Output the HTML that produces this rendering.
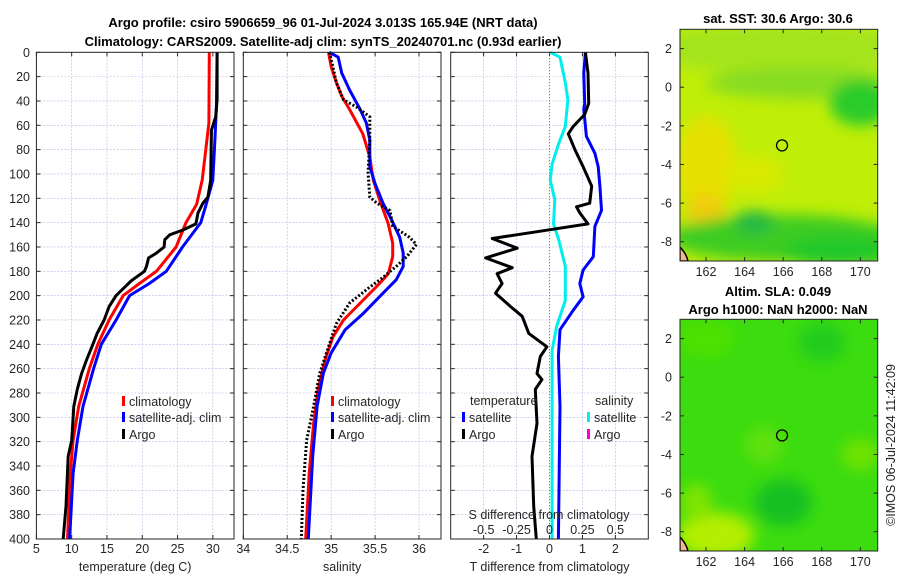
<!DOCTYPE html>
<html><head><meta charset="utf-8">
<style>
body{margin:0;background:#fff;}
svg{display:block;font-family:"Liberation Sans","DejaVu Sans",sans-serif;}
.t{font-size:12.5px;fill:#262626;}
.ti{font-size:13px;font-weight:bold;fill:#000;}
.grid{stroke:#b0b8e0;stroke-width:0.6;stroke-dasharray:2,1.5;}
</style></head>
<body>
<svg id="c" width="900" height="580">
<text class="ti" x="323" y="27" text-anchor="middle">Argo profile: csiro 5906659_96 01-Jul-2024 3.013S 165.94E (NRT data)</text>
<text class="ti" x="323" y="46" text-anchor="middle">Climatology: CARS2009. Satellite-adj clim: synTS_20240701.nc (0.93d earlier)</text>
<text class="ti" x="778" y="23" text-anchor="middle">sat. SST: 30.6 Argo: 30.6</text>
<text class="ti" x="778" y="296" text-anchor="middle">Altim. SLA: 0.049</text>
<text class="ti" x="778" y="314" text-anchor="middle">Argo h1000: NaN h2000: NaN</text>
<text class="t" x="0" y="0" transform="translate(895,445) rotate(-90)" text-anchor="middle">©IMOS 06-Jul-2024 11:42:09</text>
<g id="g"></g>
</svg>
<script>
// ---- data ----
const depthsTclim=[0,58,80,105,125,140,160,180,190,200,220,240,260,291,319,346,400];
const tClim=[29.5,29.45,29.0,28.5,27.7,26.2,24.8,22.0,19.6,17.3,15.3,13.7,12.5,11.0,10.2,9.8,9.4];
const depthsTsat=[0,45,72,105,124,140,160,180,190,200,220,240,260,291,319,346,400];
const tSat=[30.6,30.5,30.3,30.0,29.1,28.3,25.7,23.4,21.0,18.2,16.3,14.2,13.1,11.6,10.8,10.2,9.7];
const depthsTargo=[0,39,53,64,105,119,124,132,141,146,150,154,160,165,169,176,180,188,200,209,220,231,240,253,264,277,291,319,332,373,400];
const tArgo=[30.6,30.6,30.4,29.8,29.7,29.3,28.6,27.9,27.6,25.8,23.9,23.2,23.1,22.0,20.9,20.6,20.3,18.4,16.3,15.3,14.6,13.6,13.0,12.1,11.4,10.8,10.3,10.0,9.5,9.2,8.8];
const depthsSclim=[0,12,25,36,47,67,86,105,121,141,157,168,182,190,204,220,234,253,277,305,346,400];
const sClim=[34.97,35.0,35.06,35.12,35.21,35.36,35.44,35.48,35.55,35.65,35.70,35.70,35.65,35.55,35.36,35.14,35.02,34.93,34.85,34.80,34.75,34.71];
const depthsSsat=[0,4,17,31,47,58,72,94,108,124,138,152,165,176,187,198,215,228,247,264,291,332,400];
const sSat=[34.98,35.08,35.12,35.21,35.33,35.40,35.44,35.44,35.50,35.59,35.69,35.78,35.82,35.82,35.74,35.59,35.36,35.16,35.0,34.91,34.84,34.79,34.74];
const depthsSargo=[0,12,25,39,45,53,72,99,119,124,130,143,152,158,168,176,185,193,206,223,242,264,291,319,360,400];
const sArgo=[34.98,35.02,35.06,35.14,35.29,35.44,35.44,35.42,35.44,35.52,35.67,35.70,35.89,35.97,35.86,35.74,35.59,35.44,35.21,35.06,34.97,34.87,34.80,34.72,34.68,34.66];
const depthsDTsat=[0,17,42,47,69,83,94,110,130,143,168,179,190,201,212,228,250,291,400];
const dTsat=[1.09,1.04,1.07,1.04,1.12,1.38,1.48,1.53,1.58,1.38,1.33,1.02,0.92,1.02,0.72,0.32,0.27,0.32,0.27];
const depthsDSsat=[0,4,25,39,61,75,92,105,121,141,154,176,204,225,245,320,400];
const dSsat=[0.005,0.08,0.12,0.14,0.12,0.07,0.02,0.005,0.04,0.03,0.07,0.12,0.12,0.055,0.02,0.02,0.02];
const depthsDTargo=[0,17,42,51,61,67,80,94,110,124,127,132,141,147,153,161,169,177,182,190,198,209,217,231,242,250,264,269,277,305,332,373,400];
const dTargo=[1.09,1.17,1.19,1.07,0.72,0.57,0.77,1.02,1.28,1.22,0.82,0.92,1.17,-0.28,-1.74,-0.98,-1.94,-1.13,-1.59,-1.44,-1.64,-1.18,-0.83,-0.63,-0.08,-0.28,-0.38,-0.23,-0.43,-0.38,-0.53,-0.48,-0.40];
const depthTicks=[0,20,40,60,80,100,120,140,160,180,200,220,240,260,280,300,320,340,360,380,400];
const tTicks=[5,10,15,20,25,30];
const sTicks=[34,34.5,35,35.5,36];
const dTTicks=[-2,-1,0,1,2];
const dSTickLabels=["-0.5","-0.25","0","0.25","0.5"];
const dSTicks=[-0.5,-0.25,0,0.25,0.5];
const lonTicks=[162,164,166,168,170];
const latTicks=[2,0,-2,-4,-6,-8];
const argoLon=165.94, argoLat=-3.013;

const NS="http://www.w3.org/2000/svg";
const G=document.getElementById('g');
function mk(tag,at,par){const e=document.createElementNS(NS,tag);for(const k in at)e.setAttribute(k,at[k]);(par||G).appendChild(e);return e;}
const yTop=52.3,yBot=539;
const yD=d=>yTop+(d/400)*(yBot-yTop);
function lin(d0,d1,r0,r1){return v=>r0+(v-d0)/(d1-d0)*(r1-r0);}
const panels=[
 {x0:36.4,x1:234,xs:lin(5,33,36.4,234),ticks:tTicks,lab:"temperature (deg C)",name:"temperature-panel"},
 {x0:243.3,x1:441,xs:lin(34,36.25,243.3,441),ticks:sTicks,lab:"salinity",name:"salinity-panel"},
 {x0:450.7,x1:648.3,xs:lin(-3,3,450.7,648.3),ticks:dTTicks,lab:"T difference from climatology",name:"difference-panel"}
];
panels.forEach((p,pi)=>{
 const pg=mk('g',{});
 
 
 depthTicks.forEach(d=>{
  mk('line',{x1:p.x0,x2:p.x1,y1:yD(d),y2:yD(d),class:'grid'},pg);
  mk('line',{x1:p.x0,x2:p.x0+4,y1:yD(d),y2:yD(d),stroke:'#262626'},pg);
  mk('line',{x1:p.x1,x2:p.x1-4,y1:yD(d),y2:yD(d),stroke:'#262626'},pg);
  if(pi===0){const t=mk('text',{x:30,y:yD(d)+4.5,'text-anchor':'end',class:'t'},pg);t.textContent=d;
   }
 });
 p.ticks.forEach(v=>{
  const x=p.xs(v);
  if(!(pi===2&&v===0)) mk('line',{x1:x,x2:x,y1:yTop,y2:yBot,class:'grid'},pg);
  mk('line',{x1:x,x2:x,y1:yBot,y2:yBot-4,stroke:'#262626'},pg);
  mk('line',{x1:x,x2:x,y1:yTop,y2:yTop+4,stroke:'#262626'},pg);
  const t=mk('text',{x:x,y:553,'text-anchor':'middle',class:'t'},pg);t.textContent=v;
  
 });
 const xl=mk('text',{x:(p.x0+p.x1)/2,y:571,'text-anchor':'middle',class:'t'},pg);xl.textContent=p.lab;
 
 p.g=pg;
});
function line(p,ds,vs,color,w,dash,name,xs){
 const pts=ds.map((d,i)=>(xs||p.xs)(vs[i]).toFixed(1)+','+yD(d).toFixed(1)).join(' ');
 const e=mk('polyline',{points:pts,fill:'none',stroke:color,'stroke-width':w,'stroke-linejoin':'round'},p.g);
 if(dash)e.setAttribute('stroke-dasharray',dash);
 
 
}
const P=panels;
mk('line',{x1:P[2].xs(0),x2:P[2].xs(0),y1:yTop,y2:yBot,stroke:'#555','stroke-width':1,'stroke-dasharray':'1,2'},P[2].g);
line(P[0],depthsTclim,tClim,'#ff0000',3,null,'temperature-climatology-line');
line(P[0],depthsTsat,tSat,'#0000ff',3,null,'temperature-satellite-line');
line(P[0],depthsTargo,tArgo,'#000',3,null,'temperature-argo-line');
line(P[1],depthsSclim,sClim,'#ff0000',3,null,'salinity-climatology-line');
line(P[1],depthsSsat,sSat,'#0000ff',3,null,'salinity-satellite-line');
line(P[1],depthsSargo,sArgo,'#000',3,'2,2','salinity-argo-line');
const xsS=lin(-0.75,0.75,450.7,648.3);
line(P[2],depthsDSsat,dSsat,'#00eeee',3,null,'salinity-diff-satellite-line',xsS);
line(P[2],depthsDTsat,dTsat,'#0000ff',3,null,'temperature-diff-satellite-line');
line(P[2],depthsDTargo,dTargo,'#000',3,null,'temperature-diff-argo-line');
const sl=mk('text',{x:549,y:519,'text-anchor':'middle',class:'t'},P[2].g);sl.textContent='S difference from climatology';

dSTicks.forEach((v,i)=>{const t=mk('text',{x:xsS(v),y:534,'text-anchor':'middle',class:'t'},P[2].g);t.textContent=dSTickLabels[i];
 });
panels.forEach(p=>{mk('rect',{x:p.x0,y:yTop,width:p.x1-p.x0,height:yBot-yTop,fill:'none',stroke:'#262626','stroke-width':1},p.g);});
function leg(par,x,y,color,label,name){
 mk('rect',{x:x,y:y-10,width:3,height:10,fill:color},par);
 const t=mk('text',{x:x+7,y:y,class:'t'},par);t.textContent=label;
 
}
[[P[0],122],[P[1],331]].forEach(([p,x])=>{
 leg(p.g,x,406,'#ff0000','climatology','legend-climatology');
 leg(p.g,x,422,'#0000ff','satellite-adj. clim','legend-satellite-adj');
 leg(p.g,x,439,'#000','Argo','legend-argo');
});
{const t=mk('text',{x:470,y:405,class:'t'},P[2].g);t.textContent='temperature';
 
 const s=mk('text',{x:595,y:405,class:'t'},P[2].g);s.textContent='salinity';
 
 leg(P[2].g,462,422,'#0000ff','satellite','legend-temp-satellite');
 leg(P[2].g,462,439,'#000','Argo','legend-temp-argo');
 leg(P[2].g,587,422,'#00eeee','satellite','legend-sal-satellite');
 leg(P[2].g,587,439,'#ff00cc','Argo','legend-sal-argo');}
function map(y0,name,base,blobs){
 const mg=mk('g',{});
 
 
 const x0=680,x1=877.7,h=231.7;
 const xs=lin(160.65,170.9,x0,x1), ys=lin(3,-9,y0,y0+h);
 const cid='clip'+Math.round(y0);
 const cp=mk('clipPath',{id:cid},mg);mk('rect',{x:x0,y:y0,width:x1-x0,height:h},cp);
 const fid='blur'+Math.round(y0);
 const f=mk('filter',{id:fid,x:'-50%',y:'-50%',width:'200%',height:'200%'},mg);mk('feGaussianBlur',{stdDeviation:7},f);
 const inner=mk('g',{'clip-path':'url(#'+cid+')'},mg);
 mk('rect',{x:x0,y:y0,width:x1-x0,height:h,fill:base},inner);
 const bg=mk('g',{filter:'url(#'+fid+')'},inner);
 blobs.forEach(b=>mk('ellipse',{cx:xs(b[0]),cy:ys(b[1]),rx:b[2]*19.3,ry:b[3]*19.3,fill:b[4]},bg));
 mk('path',{d:`M${x0},${y0+h-14} q6,6 8,14 L${x0},${y0+h}z`,fill:'#f6b98a',stroke:'#000','stroke-width':1.5},inner);
 mk('rect',{x:x0,y:y0,width:x1-x0,height:h,fill:'none',stroke:'#262626'},mg);
 lonTicks.forEach(v=>{const x=xs(v);mk('line',{x1:x,x2:x,y1:y0+h,y2:y0+h-4,stroke:'#262626'},mg);mk('line',{x1:x,x2:x,y1:y0,y2:y0+4,stroke:'#262626'},mg);
  const t=mk('text',{x:x,y:y0+h+15,'text-anchor':'middle',class:'t'},mg);t.textContent=v;
  });
 latTicks.forEach(v=>{const y=ys(v);mk('line',{x1:x0,x2:x0+4,y1:y,y2:y,stroke:'#262626'},mg);mk('line',{x1:x1,x2:x1-4,y1:y,y2:y,stroke:'#262626'},mg);
  const t=mk('text',{x:672,y:y+4.5,'text-anchor':'end',class:'t'},mg);t.textContent=v;
  });
 const c=mk('circle',{cx:xs(argoLon),cy:ys(argoLat),r:5.5,fill:'none',stroke:'#000','stroke-width':1.3},mg);
 
}
map(29.3,'sst-map','#bfee08',[
 [166,2,7,1.3,'#a4e41e'],[167,0.2,5,0.8,'#86dc22'],[170,-0.8,1.6,1.2,'#2ccc2c'],
 [162,-4,1.6,2.5,'#e6e000'],[162,-6.5,1,1,'#f0cc10'],[164.5,-4.5,1.5,1,'#d8ea00'],
 [166,-7.8,6,1.2,'#3ecc22'],[164.5,-7,1,0.6,'#22b844'],[169,-8.5,3,0.8,'#22c82a']]);
map(319.3,'sla-map','#3cdc10',[
 [162.5,-8.2,2,1.2,'#b4ee00'],[161.5,-6.5,0.8,1,'#80e400'],[166,-6.5,1.5,1.2,'#18c024'],
 [170,-4,1,0.8,'#70e200'],[165,-3.5,1,1,'#5ee008'],[168,1.8,1.2,1,'#22cc1c'],[162,2,1.5,1,'#4ee000']]);
</script>
</body></html>
